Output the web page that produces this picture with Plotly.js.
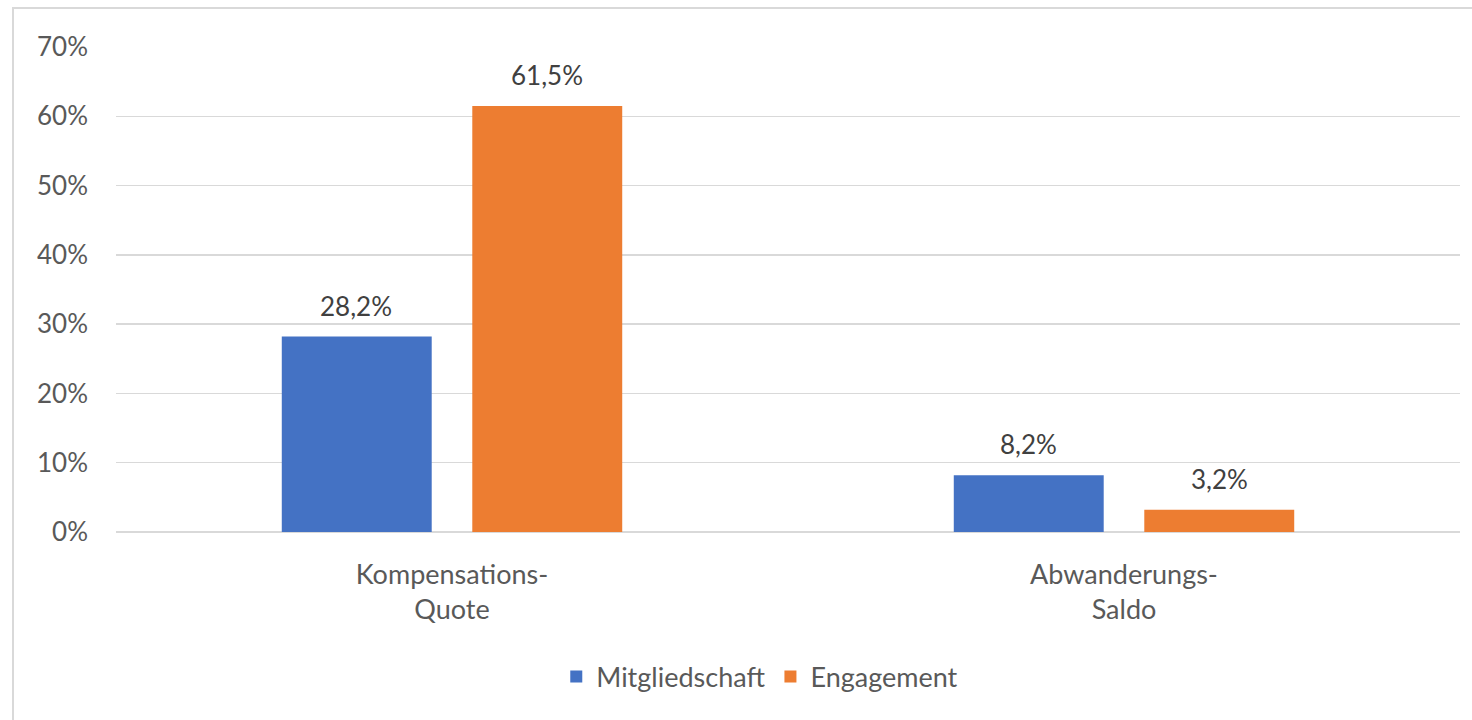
<!DOCTYPE html>
<html>
<head>
<meta charset="utf-8">
<script src="https://cdn.plot.ly/plotly-3.0.1.min.js"></script>
<style>html,body{margin:0;padding:0;background:#fff;}#chart{width:1472px;height:720px;}</style>
</head>
<body>
<div id="chart"></div>
<script>
const categories = ['Kompensations-<br>Quote', 'Abwanderungs-<br>Saldo'];
const seriesNames = ['Mitgliedschaft', 'Engagement'];
const mitgliedschaft = [28.2, 8.2];
const engagement = [61.5, 3.2];
const colors = ['#4472C4', '#ED7D31'];
const yTicks = [0, 10, 20, 30, 40, 50, 60, 70];
const yTickLabels = yTicks.map(v => v + '%');

const FONT = 'Lato, "Open Sans", sans-serif';
const fmt = v => v.toFixed(1).replace('.', ',') + '%';

const traces = [mitgliedschaft, engagement].map((vals, i) => ({
  type: 'bar',
  name: seriesNames[i],
  x: categories,
  y: vals,
  marker: {color: colors[i]},
  hoverinfo: 'skip'
}));

const annotations = [];
[mitgliedschaft, engagement].forEach((vals, i) => {
  vals.forEach((v, j) => {
    annotations.push({
      x: categories[j], y: v, xref: 'x', yref: 'y',
      text: fmt(v), showarrow: false,
      xshift: i === 0 ? -96 : 95, yshift: 31,
      yanchor: 'middle',
      font: {family: FONT, size: 26, color: '#404040'}
    });
  });
});

const layout = {
  width: 1472, height: 720,
  margin: {l: 116, r: 12, t: 47, b: 188},
  paper_bgcolor: '#ffffff', plot_bgcolor: '#ffffff',
  barmode: 'group', bargap: 0.433, bargroupgap: 0.213,
  font: {family: FONT, color: '#595959'},
  xaxis: {
    tickfont: {family: FONT, size: 27, color: '#595959'},
    showgrid: false, zeroline: false, showline: false, ticks: '',
    ticklabelstandoff: 24
  },
  yaxis: {
    range: [0, 70], tickmode: 'array', tickvals: yTicks, ticktext: yTickLabels,
    tickfont: {family: FONT, size: 26, color: '#595959'},
    gridcolor: '#d9d9d9', gridwidth: 1.5,
    zeroline: true, zerolinecolor: '#d9d9d9', zerolinewidth: 1.5,
    showline: false, ticks: '', ticklabelstandoff: 27, fixedrange: true
  },
  showlegend: true,
  legend: {
    orientation: 'h', x: 0.479, xanchor: 'center', y: -0.299, yanchor: 'middle',
    font: {family: FONT, size: 27, color: '#595959'},
    itemwidth: 30, traceorder: 'normal'
  },
  annotations: annotations,
  shapes: [{
    type: 'rect', xref: 'paper', yref: 'paper',
    x0: (13 - 116) / 1344, x1: 1.1, y0: -0.6, y1: (532 - 8) / 485,
    line: {color: '#d9d9d9', width: 2}, fillcolor: 'rgba(0,0,0,0)', layer: 'below'
  }]
};

Plotly.newPlot('chart', traces, layout, {displayModeBar: false, staticPlot: true});
</script>
</body>
</html>
